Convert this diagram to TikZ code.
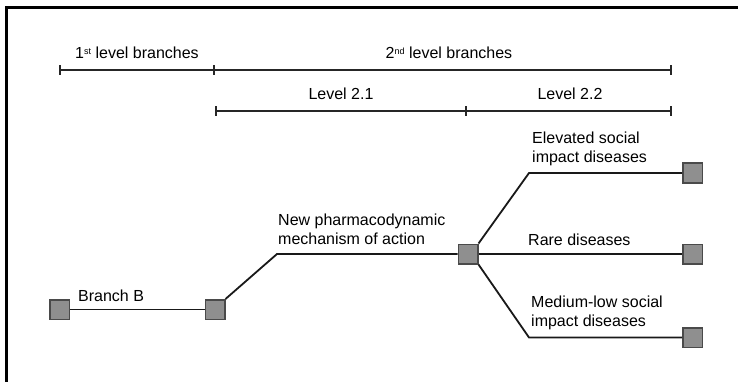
\documentclass[tikz,border=0pt]{standalone}
\usepackage{fontspec}
\setmainfont{Liberation Sans}
\usetikzlibrary{arrows.meta}
\definecolor{boxfill}{HTML}{8F8F8F}
\definecolor{boxedge}{HTML}{4A4A4A}
\begin{document}
\begin{tikzpicture}[x=1pt,y=-1pt,
  leaf/.style={draw=boxedge,fill=boxfill,line width=1.5pt,minimum size=19.5pt,inner sep=0pt},
  link/.style={line width=1.8pt,black!90},
  span/.style={line width=1.5pt,black!85},
  tick/.style={line width=1.5pt,black!85},
  lbl/.style={font=\fontsize{16}{19}\selectfont,inner sep=0pt,align=left,anchor=west},
  hdr/.style={font=\fontsize{16}{19}\selectfont,inner sep=0pt},
  sup/.style={font=\fontsize{9}{9}\selectfont}]
\useasboundingbox (0,0) rectangle (738,382);
% frame (left and top edges)
\draw[line width=2.6pt] (6.5,382) -- (6.5,7.5) -- (738,7.5);

% level spans
\coordinate (s1) at (60,70);
\coordinate (s2) at (214,70);
\coordinate (s3) at (671,70);
\coordinate (t1) at (216,111);
\coordinate (t2) at (466,111);
\coordinate (t3) at (671,111);
\draw[span] (s1) -- (s3);
\draw[span] (t1) -- (t3);
\foreach \p in {s1,s2,s3,t1,t2,t3}
  \draw[tick] ([yshift=-5pt]\p) -- ([yshift=5pt]\p);

\node[hdr] (h1) at (137,53) {1\raisebox{0.55ex}{\fontsize{9}{9}\selectfont st} level branches};
\node[hdr] (h2) at (449,53) {2\raisebox{0.55ex}{\fontsize{9}{9}\selectfont nd} level branches};
\node[hdr] (h21) at (341,94) {Level 2.1};
\node[hdr] (h22) at (570,94) {Level 2.2};

% tree nodes
\node[leaf] (a) at (59.5,309.5) {};
\node[leaf] (b) at (215,309.5) {};
\node[leaf] (c) at (468,254) {};
\node[leaf] (r1) at (692.5,173) {};
\node[leaf] (r2) at (692.5,254) {};
\node[leaf] (r3) at (692.5,337.5) {};

\coordinate (kb) at (277,254);
\coordinate (k1) at (529,173);
\coordinate (k3) at (529,337.5);

\draw[link] (a) -- (b);
\draw[link] (b.north east) -- (kb) -- (c);
\draw[link] (c.north east) -- (k1) -- (r1);
\draw[link] (c) -- (r2);
\draw[link] (c.south east) -- (k3) -- (r3);

% labels
\node[lbl] (lb) at (78,296) {Branch B};
\node[lbl] (lm) at (278,229) {New pharmacodynamic\\mechanism of action};
\node[lbl] (le) at (532,149) {Elevated social\\impact diseases};
\node[lbl] (lr) at (528,240) {Rare diseases};
\node[lbl] (ll) at (531,313) {Medium-low social\\impact diseases};
\end{tikzpicture}
\end{document}
